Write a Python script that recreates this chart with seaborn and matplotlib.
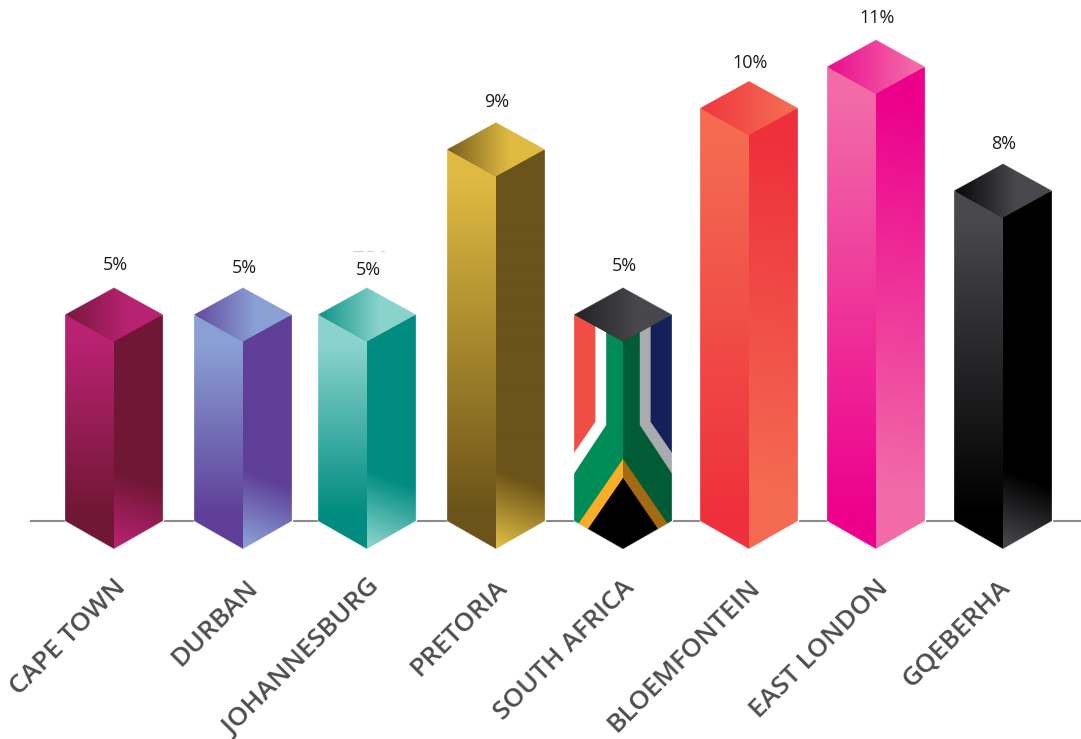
import numpy as np
import pandas as pd
import matplotlib
matplotlib.use("Agg")
import matplotlib.pyplot as plt
from matplotlib.colors import to_rgb
from matplotlib.patches import Polygon
from matplotlib.transforms import ScaledTranslation
import seaborn as sns

# Survey data
cities = ["CAPE TOWN", "DURBAN", "JOHANNESBURG", "PRETORIA",
          "SOUTH AFRICA", "BLOEMFONTEIN", "EAST LONDON", "GQEBERHA"]
shares = [5, 5, 5, 9, 5, 10, 11, 8]

# Per-bar styling
light_colours = ["#B82271", "#8AA0D5", "#8AD3CC", "#DFBA42",
                 "#47474C", "#F46B52", "#F26BA8", "#48484D"]
dark_colours = ["#6F1734", "#5F3F98", "#008C80", "#6B5319",
                "#1F1F20", "#EE303C", "#EC008C", "#000000"]
smooth_shading = [False, False, False, False, False, True, True, False]

# Layout, in pixels
W, H = 1081, 739
X0, XS = 114, 127      # centre of the first bar and bar spacing
Y0, YS = 521, 41.3     # baseline row and pixels per percentage point
HALF_W = 49            # half the width of a prism
DROP = 27              # vertical drop of the top face's front corner
centre_nudges = [0, 2, -1, 1, 1, 0, 0, 0]
label_gaps = [49.5, 46.5, 44.5, 47.3, 48.5, 45, 48.7, 46.6]
name_shifts = [-1, 3, 0, -1, -1, -1, 0, -5]

sns.set_theme(style="white")
plt.rcParams["font.family"] = ["Open Sans", "DejaVu Sans"]

fig = plt.figure(figsize=(W / 100, H / 100), dpi=100, facecolor="white")
ax = fig.add_axes([0, 0, 1, 1])

frame = pd.DataFrame({"city": cities, "share": shares})
sns.barplot(data=frame, x="city", y="share", hue="city", order=cities,
            hue_order=cities, palette=dict(zip(cities, dark_colours)),
            width=2 * HALF_W / XS, saturation=1, legend=False, ax=ax, zorder=2.8)
bars = sorted(ax.patches, key=lambda p: p.get_x())
for bar, nudge in zip(bars, centre_nudges):
    bar.set_x(bar.get_x() + nudge / XS)


def to_data(points):
    """Convert pixel positions on the canvas to axes data coordinates."""
    pts = np.asarray(points, dtype=float)
    return np.column_stack([(pts[:, 0] - X0) / XS, (Y0 - pts[:, 1]) / YS])


def face_patch(points):
    return Polygon(to_data(points), closed=True, transform=ax.transData)


def paint_gradient(points, shade, light, dark, zorder):
    """Fill a polygon with a light-to-dark ramp, shade(x, y) giving the mix."""
    pts = np.asarray(points, dtype=float)
    x0, x1 = pts[:, 0].min() - 2, pts[:, 0].max() + 2
    y0, y1 = pts[:, 1].min() - 2, pts[:, 1].max() + 2
    gx, gy = np.meshgrid(np.arange(x0, x1 + 1), np.arange(y0, y1 + 1))
    t = np.clip(shade(gx, gy), 0, 1)[..., None]
    rgb = (1 - t) * np.array(to_rgb(light)) + t * np.array(to_rgb(dark))
    image = ax.imshow(rgb, extent=((x0 - X0) / XS, (x1 - X0) / XS,
                                   (Y0 - y1) / YS, (Y0 - y0) / YS),
                      origin="upper", aspect="auto", interpolation="bilinear",
                      zorder=zorder)
    image.set_clip_path(face_patch(points))


# Flag panels for the national bar: offsets from the centre of the baseline,
# written for the left face and mirrored for the right one
flag_upper_band = [(-49, -260), (-27.3, -260), (-27.3, -99.3), (-49, -67.7)]
flag_stripe = [(-27.3, -260), (-17, -260), (-17, -96), (-49, -47.7),
               (-49, -67.7), (-27.3, -99.3)]
flag_chevron = [(0, -61.7), (-44.5, 3), (-34.7, 9), (0, -42.7)]
flag_triangle = [(0, -42.7), (-35.5, 9), (0, 29)]
flag_field = [(-60, -300), (0, -300), (0, 40), (-60, 40)]


def paint_flag(cx, points, mirror, green, upper, stripe, chevron):
    clip = face_patch(points)
    pieces = [(flag_field, green), (flag_upper_band, upper), (flag_stripe, stripe),
              (flag_chevron, chevron), (flag_triangle, "#000000")]
    for shape, colour in pieces:
        pts = [(cx + mirror * dx, Y0 + dy) for dx, dy in shape]
        piece = Polygon(to_data(pts), closed=True, facecolor=colour,
                        edgecolor=colour, linewidth=0.3, zorder=3)
        ax.add_patch(piece)
        piece.set_clip_path(clip)


for bar, light, dark, smooth, city, gap in zip(
        bars, light_colours, dark_colours, smooth_shading, cities, label_gaps):
    value = bar.get_height()
    cx = X0 + XS * (bar.get_x() + bar.get_width() / 2)
    top = Y0 - YS * value
    left_edge, right_edge = cx - HALF_W, cx + HALF_W

    left_face = [(left_edge, top), (cx, top + DROP), (cx, Y0 + DROP + 1), (left_edge, Y0)]
    right_face = [(cx, top + DROP), (right_edge, top), (right_edge, Y0), (cx, Y0 + DROP + 1)]
    top_face = [(left_edge, top), (cx, top - DROP), (right_edge, top), (cx, top + DROP)]

    if city == "SOUTH AFRICA":
        paint_flag(cx, left_face, 1, "#008C57", "#F04E45", "#FFFFFF", "#F9AE27")
        paint_flag(cx, right_face, -1, "#015C36", "#15205A", "#A9ABAE", "#A36A12")
    else:
        start = top + DROP + 3
        paint_gradient(left_face,
                       lambda x, y, s=start: (y - s) / (515 - s),
                       light, dark, 3)
        if smooth:
            paint_gradient(right_face,
                           lambda x, y, s=start, c=cx: (490 - (y - 0.2 * (x - c))) / (490 - s),
                           light, dark, 3)
        else:
            paint_gradient(right_face,
                           lambda x, y, c=cx: (545 - (y - 0.38 * (x - c))) / 75,
                           light, dark, 3)

    span = 88 if smooth else 62
    paint_gradient(top_face,
                   lambda x, y, e=left_edge, s=span: 0.9 - 0.9 * (x - e) / s,
                   light, dark, 4)

    # Pale rim along the outside of the prism
    silhouette = [(left_edge, top), (cx, top - DROP), (right_edge, top), (right_edge, Y0),
                  (cx, Y0 + DROP + 1), (left_edge, Y0)]
    ax.add_patch(Polygon(to_data(silhouette), closed=True, fill=False,
                         edgecolor=(1, 1, 1, 0.35), linewidth=0.6, zorder=5))

    ax.annotate(f"{value:g}%", xy=(bar.get_x() + bar.get_width() / 2, value),
                xytext=(0.7, gap * 0.72), textcoords="offset points",
                ha="center", va="center", fontsize=13, color="#1A1A1A", zorder=6)

# Faint dashes above the Johannesburg label
for x_a, x_b in [(353, 363), (367, 373), (381, 384)]:
    ax.plot([(x_a - X0) / XS, (x_b - X0) / XS], [(Y0 - 251) / YS] * 2,
            color="#CFCFCF", linewidth=0.8, solid_capstyle="butt", zorder=1)

# Axes dressing: only a baseline and the rotated city names
ax.set_xlim(-X0 / XS, (W - X0) / XS)
ax.set_ylim((Y0 - H) / YS, Y0 / YS)
ax.set_xlabel("")
ax.set_ylabel("")
ax.set_yticks([])
for side in ("left", "right", "top"):
    ax.spines[side].set_visible(False)
ax.spines["bottom"].set_position(("data", 0))
ax.spines["bottom"].set_color("#8A8A8A")
ax.spines["bottom"].set_linewidth(1.5)
ax.spines["bottom"].set_bounds((31 - X0) / XS, (W - X0) / XS)

ax.set_xticks([b.get_x() + b.get_width() / 2 for b in bars])
ax.set_xticklabels(cities)
ax.tick_params(axis="x", length=0, pad=39, labelsize=19, labelcolor="#4D4D4F")
for label, shift_px in zip(ax.get_xticklabels(), name_shifts):
    label.set(rotation=45, ha="right", va="top", rotation_mode="anchor", fontweight=600)
    label.set_transform(label.get_transform()
                        + ScaledTranslation(shift_px / 100, 0, fig.dpi_scale_trans))

fig.savefig("out.png", dpi=100, facecolor="white")
